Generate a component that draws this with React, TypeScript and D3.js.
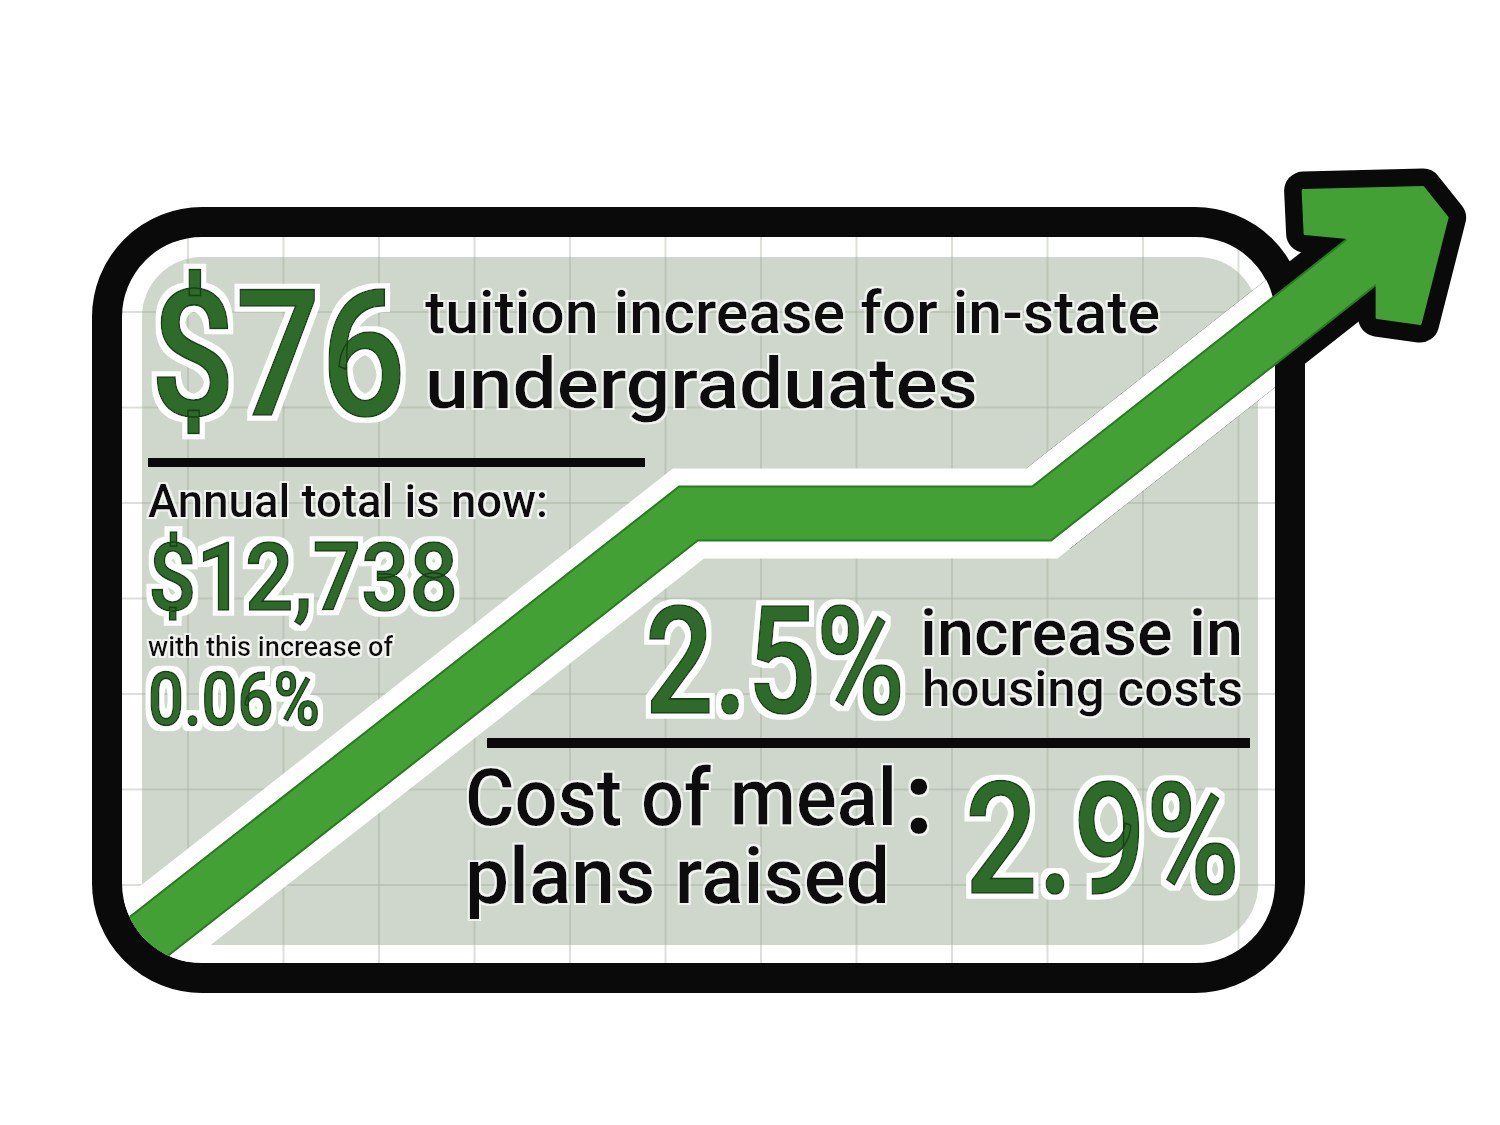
import * as d3 from 'd3'
import React from 'react'

// trend line, measured in grid cells (x to the right, y upwards)
const trendX = [-1, 5.24, 8.94, 12.64]
const trendY = [-1, 3.89, 3.89, 6.8]

// grid cells drawn behind the panel
const gridCols = d3.range(-1, 12)
const gridRows = d3.range(-1, 7)

// headline figures and their captions
const bigNumbers = ['$76', '$12,738', '0.06%', '2.5%', '2.9%']
const captions = [
  'tuition increase for in-state',
  'undergraduates',
  'Annual total is now:',
  'with this increase of',
  'increase in',
  'housing costs',
  'Cost of meal',
  'plans raised',
]

const W = 1500
const H = 1125
const FONT = 'Roboto, "DejaVu Sans Condensed", sans-serif'
const GREEN = '#42a034'
const GREEN_EDGE = '#2a7a22'
const TEXT_GREEN = '#2f6a2a'

const xScale = d3.scaleLinear().domain([0, 1]).range([188, 283.5])
const yScale = d3.scaleLinear().domain([0, 1]).range([885, 789.5])

interface LabelProps {
  text: string
  x: number
  y: number
  size: number
  width: number
  green?: boolean
  weight?: number
  children?: React.ReactNode
}

const Label = ({ text, x, y, size, width, green = false, weight = 500, children }: LabelProps) => (
  <text
    x={x}
    y={y}
    fontSize={size}
    fontFamily={FONT}
    fontWeight={weight}
    fill={green ? TEXT_GREEN : '#0d0d0d'}
    stroke={green ? '#173f14' : 'none'}
    strokeWidth={green ? 1.6 : 0}
    filter={green ? 'url(#haloBig)' : 'url(#haloSmall)'}
  >
    <tspan textLength={width} lengthAdjust="spacingAndGlyphs">
      {text}
    </tspan>
    {children}
  </text>
)

const Halo = ({ id, radius, opacity }: { id: string; radius: number; opacity: number }) => (
  <filter id={id} x="-10%" y="-20%" width="120%" height="140%">
    <feMorphology in="SourceAlpha" operator="dilate" radius={radius} result="grown" />
    <feFlood floodColor="#fff" floodOpacity={opacity} />
    <feComposite in2="grown" operator="in" result="halo" />
    <feMerge>
      <feMergeNode in="halo" />
      <feMergeNode in="SourceGraphic" />
    </feMerge>
  </filter>
)

const App = () => {
  const idx = d3.range(trendX.length)
  const line = d3
    .line<number>()
    .x((i) => xScale(trendX[i]))
    .y((i) => yScale(trendY[i]))
  const trendPath = line(idx) ?? ''
  const lastLeg = line(idx.slice(-2)) ?? ''

  // arrow head, drawn relative to the last point of the trend
  const ex = xScale(trendX[trendX.length - 1])
  const ey = yScale(trendY[trendY.length - 1])
  const headShape: [number, number][] = [
    [-92, -45],
    [28, -48],
    [52, -18],
    [25, 88],
    [-18, 82],
    [-18, 48],
    [-48, 2],
    [-90, -2],
  ]
  const head = 'M' + headShape.map(([dx, dy]) => `${ex + dx},${ey + dy}`).join('L') + 'Z'

  const inner = { x: 122, y: 236, w: 1153, h: 727, r: 80 }

  return (
    <div style={{ position: 'absolute', left: 0, top: 0 }}>
      <svg width={W} height={H} viewBox={`0 0 ${W} ${H}`} style={{ display: 'block' }}>
        <defs>
          <clipPath id="inner">
            <rect x={inner.x} y={inner.y} width={inner.w} height={inner.h} rx={inner.r} />
          </clipPath>
          <clipPath id="innerPlus">
            <rect x={inner.x} y={inner.y} width={inner.w} height={inner.h} rx={inner.r} />
            <rect x={1150} y={0} width={350} height={400} />
          </clipPath>
          <Halo id="haloBig" radius={5} opacity={1} />
          <Halo id="haloSmall" radius={2} opacity={0.7} />
        </defs>
        <rect width={W} height={H} fill="#fff" />

        {/* panel */}
        <g clipPath="url(#inner)">
          <rect x={inner.x} y={inner.y} width={inner.w} height={inner.h} fill="#fff" />
          <rect x={142} y={257} width={1116} height={688} rx={60} fill="#cfd6cb" />
          <g stroke="#9aa696" strokeOpacity={0.35} strokeWidth={2}>
            {gridCols.map((c) => (
              <line key={'c' + c} x1={xScale(c)} x2={xScale(c)} y1={inner.y} y2={inner.y + inner.h} />
            ))}
            {gridRows.map((r) => (
              <line key={'r' + r} x1={inner.x} x2={inner.x + inner.w} y1={yScale(r)} y2={yScale(r)} />
            ))}
          </g>
        </g>
        <rect x={107} y={222} width={1183} height={756} rx={95} fill="none" stroke="#0a0a0a" strokeWidth={30} />

        {/* trend line: black outline outside the panel, white inside */}
        <path d={lastLeg} fill="none" stroke="#0a0a0a" strokeWidth={90} />
        <path d={trendPath} clipPath="url(#inner)" fill="none" stroke="#fff" strokeWidth={90} strokeLinejoin="miter" />
        <path d={head} fill="#0a0a0a" stroke="#0a0a0a" strokeWidth={38} strokeLinejoin="round" />
        <g clipPath="url(#innerPlus)">
          <path d={trendPath} fill="none" stroke={GREEN_EDGE} strokeWidth={56} strokeLinejoin="miter" />
          <path d={trendPath} fill="none" stroke={GREEN} strokeWidth={52} strokeLinejoin="miter" />
        </g>
        <path d={head} fill={GREEN} stroke={GREEN} strokeWidth={3} strokeLinejoin="round" />

        {/* text */}
        <Label text={bigNumbers[0]} x={150} y={415} size={176} width={256} green />
        <Label text={captions[0]} x={425} y={333} size={60} width={735} />
        <Label text={captions[1]} x={425} y={408} size={70} width={553} />
        <rect x={148} y={458} width={497} height={9} fill="#0a0a0a" />
        <Label text={captions[2]} x={148} y={517} size={46} width={400} />
        <Label text={bigNumbers[1]} x={148} y={610} size={94} width={310} green />
        <Label text={captions[3]} x={148} y={656} size={27} width={245} />
        <Label text={bigNumbers[2]} x={148} y={725} size={74} width={172} green />
        <Label text={bigNumbers[3]} x={645} y={713} size={150} width={260} green />
        <Label text={captions[4]} x={920} y={655} size={64} width={323} />
        <Label text={captions[5]} x={922} y={706} size={50} width={321} />
        <rect x={487} y={738} width={763} height={10} fill="#0a0a0a" />
        <Label text={captions[6]} x={465} y={825} size={80} width={432}>
          <tspan x={905} y={833} fontSize={100} fontWeight={900} textLength={28} lengthAdjust="spacingAndGlyphs">
            :
          </tspan>
        </Label>
        <Label text={captions[7]} x={465} y={903} size={78} width={425} />
        <Label text={bigNumbers[4]} x={965} y={893} size={155} width={275} green />
      </svg>
    </div>
  )
}

export default App
